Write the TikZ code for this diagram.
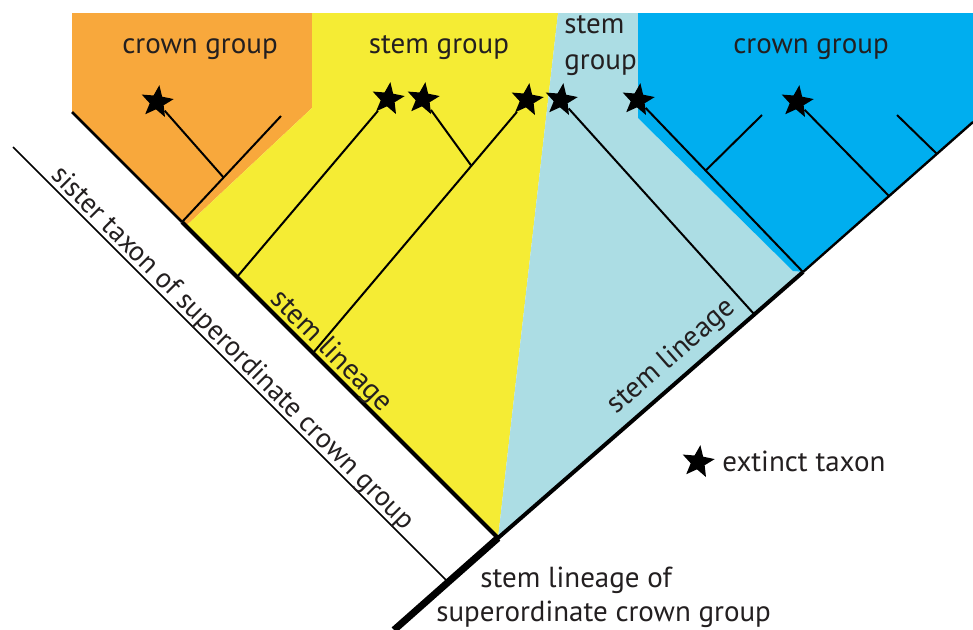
\documentclass[tikz,border=0pt]{standalone}
\usepackage{fontspec}
\setmainfont{PT Sans}
\usetikzlibrary{shapes.geometric,calc}
\definecolor{crownorange}{RGB}{248,168,60}
\definecolor{stemyellow}{RGB}{245,236,52}
\definecolor{stemblue}{RGB}{172,221,228}
\definecolor{crownblue}{RGB}{0,174,239}
\definecolor{inkgray}{RGB}{35,31,32}

\begin{document}
\begin{tikzpicture}[x=0.5pt, y=-0.5pt,
    branch/.style={line width=1pt, black},
    extinct/.style={star, star points=5, star point ratio=2.3, fill=black, minimum size=17pt, inner sep=0pt, rotate=-8},
    lbl/.style={inkgray, font=\fontsize{14.5}{18}\selectfont, inner sep=0pt}]
        \useasboundingbox (0,0) rectangle (973,629);
        % coloured groups
        \fill[crownorange] (72,13) -- (312,13) -- (312,108) -- (186,226) -- (72,112) -- cycle;
        \fill[stemyellow] (312,13) -- (558,13) -- (498,538) -- (186,226) -- (312,108) -- cycle;
        \fill[stemblue] (558,13) -- (638,13) -- (638,118) -- (793,271) -- (803,272) -- (498,538) -- cycle;
        \fill[crownblue] (638,13) -- (973,13) -- (973,122) -- (803,272) -- (793,271) -- (638,118) -- cycle;
        % nodes of the tree
        \coordinate (base) at (394,630);
        \coordinate (sis) at (448,582);
        \coordinate (sistip) at (13,147);
        \coordinate (A) at (498,538);
        \coordinate (Ltop) at (72,112);
        \coordinate (Lo) at (182,222);
        \coordinate (To) at (281,116);
        \coordinate (L1) at (237,277);
        \coordinate (L2) at (313,353);
        \coordinate (R1) at (754,314);
        \coordinate (R2) at (803,272);
        \coordinate (R3) at (889,196);
        \coordinate (R4) at (937,154);
        \coordinate (Rtop) at (973,122);
        \coordinate (J3tip) at (762,115);
        \coordinate (R4tip) at (897,115);
        % extinct taxa
        \node[extinct] (xo) at (157,102) {};
        \node[extinct] (xy1) at (388,99) {};
        \node[extinct] (xy2) at (423,99) {};
        \node[extinct] (xy3) at (527,100) {};
        \node[extinct] (xs) at (561,100) {};
        \node[extinct] (xb1) at (638,100) {};
        \node[extinct] (xb2) at (797,102) {};
        \node[extinct] (xkey) at (698,462) {};
        \coordinate (Jo) at ($(Lo)!0.42!(To)$);
        \coordinate (J2) at ($(L2)!0.74!(xy3)$);
        \coordinate (J3) at ($(R2)!0.59!(xb1)$);
        % main lineages
        \draw[line width=3.5pt] (base) -- (A);
        \draw[line width=2pt] (Lo) -- (A) -- (R2);
        \draw[line width=1.3pt] (Ltop) -- (Lo);
        \draw[line width=1.2pt] (R2) -- (Rtop);
        \draw[line width=0.8pt] (sis) -- (sistip);
        % branches
        \draw[branch] (Lo) -- (To);
        \draw[branch] (Jo) -- (xo);
        \draw[branch] (L1) -- (xy1);
        \draw[branch] (L2) -- (xy3);
        \draw[branch] (J2) -- (xy2);
        \draw[branch] (R1) -- (xs);
        \draw[branch] (R2) -- (xb1);
        \draw[branch] (J3) -- (J3tip);
        \draw[branch] (R3) -- (xb2);
        \draw[branch] (R4) -- (R4tip);
        % labels
        \node[lbl, anchor=base] (tcrowno) at (200,53) {crown group};
        \node[lbl, anchor=base] (tstemy) at (439,53) {stem group};
        \node[lbl, align=left, anchor=west] (tstemb) at (564,46) {stem\\group};
        \node[lbl, anchor=base] (tcrownb) at (811,53) {crown group};
        \node[lbl, font=\fontsize{14}{17}\selectfont, rotate=-45] (tsister) at (232,349) {sister taxon of superordinate crown group};
        \node[lbl, rotate=-45] (tstemL) at (331,352) {stem lineage};
        \node[lbl, rotate=41.2] (tstemR) at (672,357) {stem lineage};
        \node[lbl, anchor=base west] (tkey) at (722,471) {extinct taxon};
        \node[lbl, anchor=base west] (troota) at (480,587) {stem lineage of};
        \node[lbl, anchor=base west] (trootb) at (436,621) {superordinate crown group};
\end{tikzpicture}
\end{document}
